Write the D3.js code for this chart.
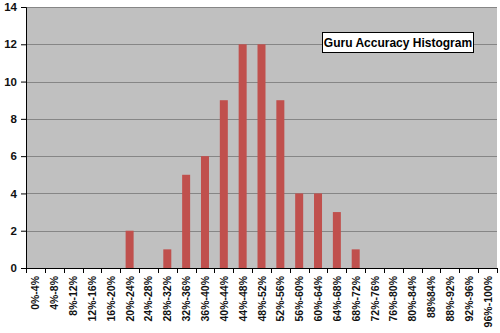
<!DOCTYPE html>
<html>
<head>
<meta charset="utf-8">
<script src="https://cdn.jsdelivr.net/npm/d3@7"></script>
<style>
body { margin: 0; background: #fff; }
svg { display: block; font-family: "Liberation Sans", Arial, sans-serif; }
</style>
</head>
<body>
<svg width="500" height="333"></svg>
<script>
const categories = ["0%-4%", "4%-8%", "8%-12%", "12%-16%", "16%-20%", "20%-24%", "24%-28%", "28%-32%",
  "32%-36%", "36%-40%", "40%-44%", "44%-48%", "48%-52%", "52%-56%", "56%-60%", "60%-64%", "64%-68%",
  "68%-72%", "72%-76%", "76%-80%", "80%-84%", "88%84%", "88%-92%", "92%-96%", "96%-100%"];
const counts = [0, 0, 0, 0, 0, 2, 0, 1, 5, 6, 9, 12, 12, 9, 4, 4, 3, 1, 0, 0, 0, 0, 0, 0, 0];
const yTicks = [0, 2, 4, 6, 8, 10, 12, 14];
const title = "Guru Accuracy Histogram";

const plotL = 26, plotR = 497, plotT = 7, plotB = 268;
const svg = d3.select("svg");

const x = d3.scaleBand().domain(categories).range([plotL, plotR]);
const y = d3.scaleLinear().domain([0, 14]).range([plotB, plotT]);

svg.append("rect").attr("x", plotL).attr("y", plotT)
  .attr("width", plotR - plotL).attr("height", plotB - plotT).attr("fill", "#c0c0c0");

svg.selectAll(".grid").data(yTicks.filter(d => d > 0)).enter().append("line")
  .attr("x1", plotL).attr("x2", plotR)
  .attr("y1", d => Math.round(y(d)) + 0.5).attr("y2", d => Math.round(y(d)) + 0.5)
  .attr("stroke", "#868686").attr("stroke-width", 1);

const bw = 8;
svg.selectAll(".bar").data(counts).enter().append("rect")
  .attr("x", (d, i) => x(categories[i]) + x.bandwidth() / 2 - bw / 2)
  .attr("y", d => y(d))
  .attr("width", bw)
  .attr("height", d => plotB - y(d))
  .attr("fill", "#c0504d");

// y axis
const yAxis = svg.append("g").attr("transform", `translate(${plotL},0)`)
  .call(d3.axisLeft(y).tickValues(yTicks).tickSize(5).tickPadding(4));
yAxis.select(".domain").attr("stroke", "#000");
yAxis.selectAll("text").attr("font-size", 11.5).attr("font-weight", "bold").attr("fill", "#111")
  .attr("font-family", "Liberation Sans, Arial, sans-serif");

// x axis
const xg = svg.append("g");
xg.append("line").attr("x1", plotL).attr("x2", plotR).attr("y1", plotB + 0.5).attr("y2", plotB + 0.5)
  .attr("stroke", "#000");
const bounds = categories.map(c => x(c)).concat([plotR]);
xg.selectAll(".xt").data(bounds).enter().append("line")
  .attr("x1", d => Math.round(d) + 0.5).attr("x2", d => Math.round(d) + 0.5)
  .attr("y1", plotB).attr("y2", plotB + 5).attr("stroke", "#000");
xg.selectAll(".xl").data(categories).enter().append("text")
  .attr("transform", c => `translate(${x(c) + x.bandwidth() / 2 + 4},${plotB + 8}) rotate(-90)`)
  .attr("text-anchor", "end")
  .attr("font-size", 10.5).attr("font-weight", "bold").attr("fill", "#111")
  .text(c => c);

// title box
const tb = svg.append("g");
tb.append("rect").attr("x", 322.5).attr("y", 32.5).attr("width", 151).attr("height", 20)
  .attr("fill", "#fff").attr("stroke", "#000");
tb.append("text").attr("x", 398).attr("y", 47).attr("text-anchor", "middle")
  .attr("font-size", 12).attr("font-weight", "bold").attr("fill", "#000")
  .text(title);
</script>
</body>
</html>
